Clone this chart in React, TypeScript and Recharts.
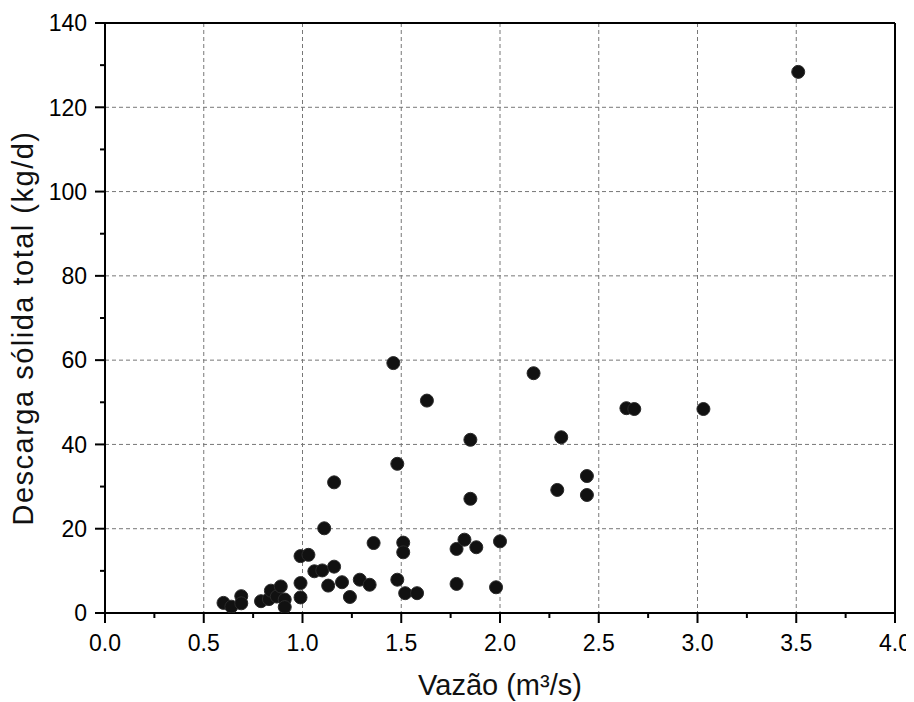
import React from "react";
import {
  ScatterChart,
  Scatter,
  XAxis,
  YAxis,
  CartesianGrid,
  ReferenceLine,
} from "recharts";

// Vazão (m³/s)
const vazao: number[] = [
  0.6, 0.64, 0.69, 0.69, 0.79, 0.83, 0.84, 0.87, 0.89, 0.91, 0.91, 0.99, 0.99,
  0.99, 1.03, 1.06, 1.1, 1.11, 1.13, 1.16, 1.16, 1.2, 1.24, 1.29, 1.34, 1.36,
  1.46, 1.48, 1.48, 1.51, 1.51, 1.52, 1.58, 1.63, 1.78, 1.78, 1.82, 1.85, 1.85,
  1.88, 1.98, 2.0, 2.17, 2.29, 2.31, 2.44, 2.44, 2.64, 2.68, 3.03, 3.51,
];
// Descarga sólida total (kg/d)
const descarga: number[] = [
  2.4, 1.5, 4.0, 2.3, 2.8, 3.3, 5.3, 3.9, 6.3, 3.2, 1.4, 7.1, 3.7, 13.5, 13.8,
  9.9, 10.1, 20.1, 6.5, 11.0, 31.0, 7.3, 3.8, 7.9, 6.7, 16.6, 59.3, 35.4, 7.9,
  16.7, 14.4, 4.7, 4.7, 50.4, 15.2, 6.9, 17.4, 41.1, 27.1, 15.6, 6.1, 17.0,
  56.9, 29.2, 41.7, 32.5, 28.0, 48.6, 48.4, 48.4, 128.4,
];

const xMajorTicks: number[] = [0, 0.5, 1, 1.5, 2, 2.5, 3, 3.5, 4];
const xMinorTicks: number[] = [0.25, 0.75, 1.25, 1.75, 2.25, 2.75, 3.25, 3.75];
const yMajorTicks: number[] = [0, 20, 40, 60, 80, 100, 120, 140];
const yMinorTicks: number[] = [10, 30, 50, 70, 90, 110, 130];
const xGridValues: number[] = [0.5, 1, 1.5, 2, 2.5, 3, 3.5];
const yGridValues: number[] = [20, 40, 60, 80, 100, 120];

const xLabel = "Vazão (m³/s)";
const yLabel = "Descarga sólida total (kg/d)";

const data = vazao.map((v, i) => ({ x: v, y: descarga[i] }));

const FONT = "'Liberation Sans', Arial, sans-serif";
const TICK_SIZE = 10;
const MINOR_SIZE = 5;
const X_MARGIN = 11;
const Y_MARGIN = 8;
const TICK_FONT = 23;

const XTick = (props: any) => {
  const { x, y, payload } = props;
  const v = payload.value;
  const major = xMajorTicks.some((t) => Math.abs(t - v) < 1e-9);
  const axisY = y - TICK_SIZE - X_MARGIN;
  return (
    <g>
      <line
        x1={x}
        x2={x}
        y1={axisY}
        y2={axisY + (major ? TICK_SIZE : MINOR_SIZE)}
        stroke="#000"
        strokeWidth={2}
      />
      {major && (
        <text
          x={x}
          y={y}
          dy="0.74em"
          textAnchor="middle"
          fontSize={TICK_FONT}
          fontFamily={FONT}
          fill="#000"
        >
          {v.toFixed(1)}
        </text>
      )}
    </g>
  );
};

const YTick = (props: any) => {
  const { x, y, payload } = props;
  const v = payload.value;
  const major = yMajorTicks.some((t) => Math.abs(t - v) < 1e-9);
  const axisX = x + TICK_SIZE + Y_MARGIN;
  return (
    <g>
      <line
        x1={axisX - (major ? TICK_SIZE : MINOR_SIZE)}
        x2={axisX}
        y1={y}
        y2={y}
        stroke="#000"
        strokeWidth={2}
      />
      {major && (
        <text
          x={x}
          y={y}
          dy="0.36em"
          textAnchor="end"
          fontSize={TICK_FONT}
          fontFamily={FONT}
          fill="#000"
        >
          {String(v)}
        </text>
      )}
    </g>
  );
};

const Dot = (props: any) => {
  const { cx, cy } = props;
  return <circle cx={cx} cy={cy} r={6.5} fill="#111" stroke="#2a2a2a" strokeWidth={1} />;
};

const XTitle = (props: any) => {
  const vb = props.viewBox || {};
  const cx = vb.x + vb.width / 2;
  return (
    <text
      x={cx}
      y={vb.y + 82}
      textAnchor="middle"
      fontSize={29}
      fontFamily={FONT}
      fill="#111"
    >
      {xLabel}
    </text>
  );
};

const YTitle = (props: any) => {
  const vb = props.viewBox || {};
  const cy = vb.y + vb.height / 2 + 10;
  const tx = 15;
  return (
    <text
      x={tx}
      y={cy}
      transform={`rotate(-90, ${tx}, ${cy})`}
      textAnchor="middle"
      dominantBaseline="central"
      fontSize={29}
      letterSpacing={1.5}
      fontFamily={FONT}
      fill="#111"
    >
      {yLabel}
    </text>
  );
};

const allX = [...xMajorTicks, ...xMinorTicks].sort((a, b) => a - b);
const allY = [...yMajorTicks, ...yMinorTicks].sort((a, b) => a - b);

export default function App() {
  return (
    <div style={{ width: 906, height: 694, background: "#fff" }}>
      <ScatterChart
        width={906}
        height={694}
        margin={{ top: 15, right: 19, bottom: 29, left: 0 }}
      >
        <CartesianGrid
          stroke="#777"
          strokeDasharray="4 3"
          horizontalValues={yGridValues}
          verticalValues={xGridValues}
        />
        <XAxis
          type="number"
          dataKey="x"
          domain={[0, 4]}
          ticks={allX}
          interval={0}
          tickSize={TICK_SIZE}
          tickMargin={X_MARGIN}
          tickLine={false}
          tick={<XTick />}
          axisLine={{ stroke: "#000", strokeWidth: 2 }}
          height={60}
          allowDataOverflow
          label={{ content: (p: any) => <XTitle {...p} /> }}
        />
        <YAxis
          type="number"
          dataKey="y"
          domain={[0, 140]}
          ticks={allY}
          interval={0}
          tickSize={TICK_SIZE}
          tickMargin={Y_MARGIN}
          tickLine={false}
          tick={<YTick />}
          axisLine={{ stroke: "#000", strokeWidth: 2 }}
          width={97}
          allowDataOverflow
          label={{ content: (p: any) => <YTitle {...p} /> }}
        />
        <ReferenceLine y={140} stroke="#000" strokeWidth={2} />
        <ReferenceLine x={4} stroke="#000" strokeWidth={2} />
        <Scatter data={data} shape={<Dot />} isAnimationActive={false} />
      </ScatterChart>
    </div>
  );
}
